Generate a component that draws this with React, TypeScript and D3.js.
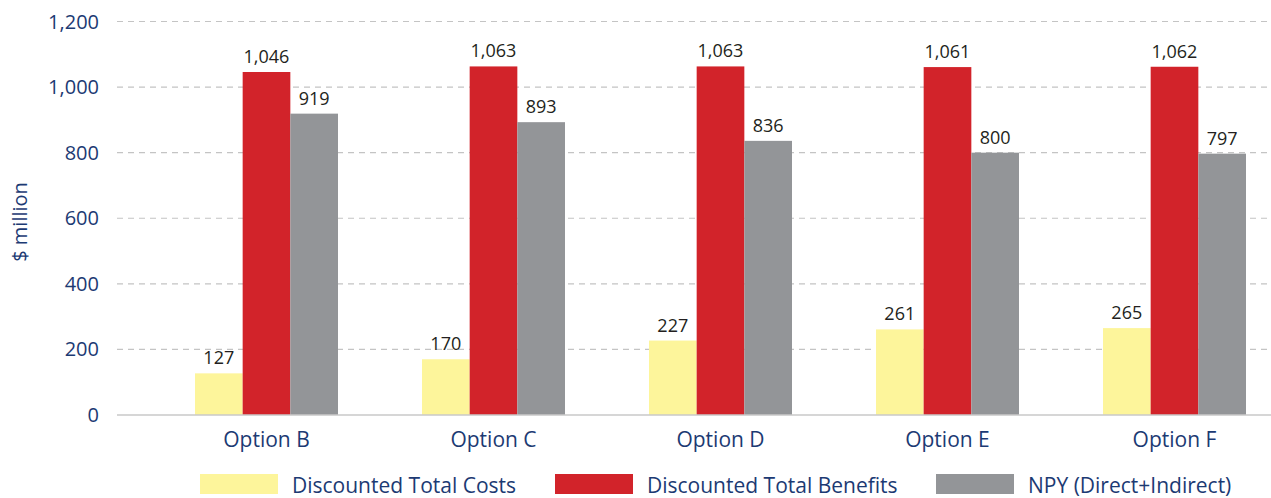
import React, { useEffect, useRef } from 'react';
import * as d3 from 'd3';

const options = ['Option B', 'Option C', 'Option D', 'Option E', 'Option F'];
const seriesNames = ['Discounted Total Costs', 'Discounted Total Benefits', 'NPY (Direct+Indirect)'];
const costs = [127, 170, 227, 261, 265];
const benefits = [1046, 1063, 1063, 1061, 1062];
const npy = [919, 893, 836, 800, 797];
const yTicks = [0, 200, 400, 600, 800, 1000, 1200];

const colors = ['#fdf59b', '#d2232a', '#939598'];
const navy = '#1c3a73';
const font = '"Open Sans", sans-serif';

const Chart = () => {
  const ref = useRef<SVGSVGElement>(null);

  useEffect(() => {
    const svg = d3.select(ref.current);
    svg.selectAll('*').remove();

    const x = d3.scaleBand().domain(options).range([153, 1288]).paddingInner(0.37).paddingOuter(0.185);
    const xs = d3.scaleBand().domain(seriesNames).range([0, x.bandwidth()]);
    const y = d3.scaleLinear().domain([0, 1200]).range([415, 21.5]);

    // gridlines
    svg
      .append('g')
      .selectAll('line')
      .data(yTicks.filter((t) => t > 0))
      .enter()
      .append('line')
      .attr('x1', 117)
      .attr('x2', 1271)
      .attr('y1', (d) => y(d))
      .attr('y2', (d) => y(d))
      .attr('stroke', '#c4c4c4')
      .attr('stroke-width', 1.2)
      .attr('stroke-dasharray', '6,5');

    // y axis labels
    svg
      .append('g')
      .selectAll('text')
      .data(yTicks)
      .enter()
      .append('text')
      .attr('x', 99)
      .attr('y', (d) => y(d) + 7)
      .attr('text-anchor', 'end')
      .attr('font-family', font)
      .attr('font-size', 20)
      .attr('fill', navy)
      .text((d) => d3.format(',')(d));

    svg
      .append('text')
      .attr('transform', 'translate(27,222) rotate(-90)')
      .attr('text-anchor', 'middle')
      .attr('font-family', font)
      .attr('font-size', 20)
      .attr('fill', navy)
      .text('$ million');

    const data = [costs, benefits, npy];
    const groups = svg
      .append('g')
      .selectAll('g')
      .data(options)
      .enter()
      .append('g')
      .attr('transform', (d) => `translate(${x(d)},0)`);

    seriesNames.forEach((s, si) => {
      groups
        .append('rect')
        .attr('x', xs(s))
        .attr('width', xs.bandwidth())
        .attr('y', (d, i) => y(data[si][i]))
        .attr('height', (d, i) => y(0) - y(data[si][i]))
        .attr('fill', colors[si]);
      groups
        .append('text')
        .attr('x', xs(s) + xs.bandwidth() / 2)
        .attr('y', (d, i) => y(data[si][i]) - 9)
        .attr('text-anchor', 'middle')
        .attr('font-family', font)
        .attr('font-size', 18)
        .attr('fill', '#231f20')
        .text((d, i) => d3.format(',')(data[si][i]));
    });

    // baseline
    svg
      .append('line')
      .attr('x1', 117)
      .attr('x2', 1271)
      .attr('y1', y(0))
      .attr('y2', y(0))
      .attr('stroke', '#c8c8c8')
      .attr('stroke-width', 1.5);

    // x labels
    svg
      .append('g')
      .selectAll('text')
      .data(options)
      .enter()
      .append('text')
      .attr('x', (d) => x(d) + x.bandwidth() / 2)
      .attr('y', 447)
      .attr('text-anchor', 'middle')
      .attr('font-family', font)
      .attr('font-size', 21)
      .attr('fill', navy)
      .text((d) => d);

    // legend
    const legendX = [200, 555, 936];
    const legend = svg
      .append('g')
      .selectAll('g')
      .data(seriesNames)
      .enter()
      .append('g');
    legend
      .append('rect')
      .attr('x', (d, i) => legendX[i])
      .attr('y', 474)
      .attr('width', 78)
      .attr('height', 20)
      .attr('fill', (d, i) => colors[i]);
    legend
      .append('text')
      .attr('x', (d, i) => legendX[i] + 92)
      .attr('y', 493)
      .attr('font-family', font)
      .attr('font-size', 21)
      .attr('fill', navy)
      .text((d) => d);
  }, []);

  return <svg ref={ref} width={1271} height={498} style={{ display: 'block' }} />;
};

export default function App() {
  return (
    <div style={{ position: 'fixed', left: 0, top: 0, width: 1271, height: 498, background: '#fff' }}>
      <Chart />
    </div>
  );
}
